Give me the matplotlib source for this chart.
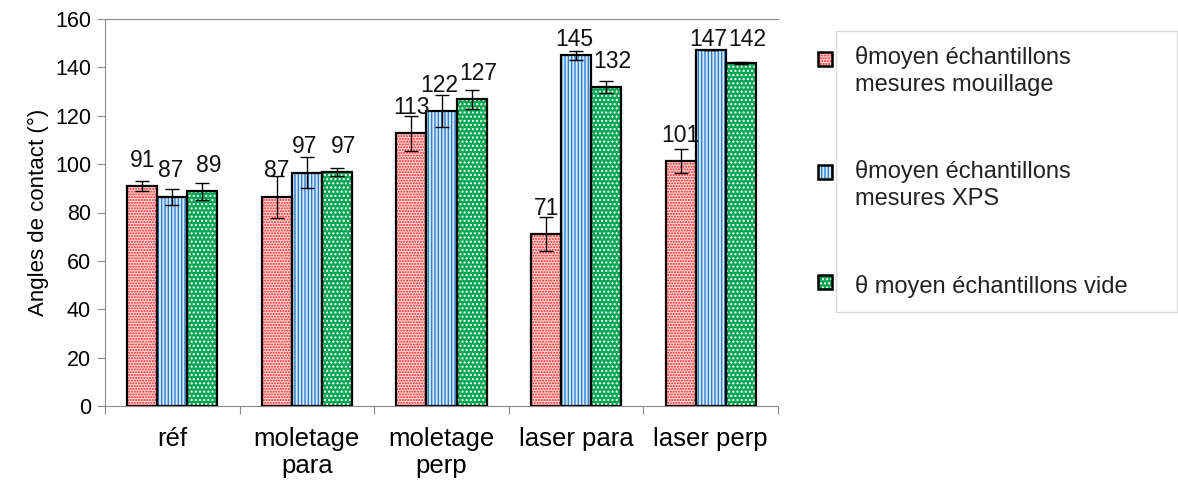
import numpy as np
import matplotlib.pyplot as plt
from matplotlib.patches import Rectangle

plt.rcParams['font.family'] = ['Liberation Sans', 'DejaVu Sans']

# données
categories = ['réf', 'moletage\npara', 'moletage\nperp', 'laser para', 'laser perp']
series = ['θmoyen échantillons\nmesures mouillage',
          'θmoyen échantillons\nmesures XPS',
          'θ moyen échantillons vide']
mouillage = [90.8, 86.5, 112.7, 71.0, 101.3]
xps = [86.5, 96.5, 121.9, 145.0, 147.0]
vide = [88.7, 96.6, 126.8, 131.8, 141.8]
err_mouillage = [2.1, 8.6, 7.1, 7.0, 5.0]
err_xps = [3.2, 6.4, 6.7, 1.9, 0.0]
err_vide = [3.5, 1.6, 3.9, 2.4, 0.5]
labels_mouillage = [91, 87, 113, 71, 101]
labels_xps = [87, 97, 122, 145, 147]
labels_vide = [89, 97, 127, 132, 142]

values = [mouillage, xps, vide]
errors = [err_mouillage, err_xps, err_vide]
labels = [labels_mouillage, labels_xps, labels_vide]

# styles: fond, couleur des motifs, motif
styles = [('#ffd6d6', '#ee2222', '......'),
          ('#d6e8f8', '#2a7fd0', '|||||'),
          ('#00a651', '#ffffff', '....')]
label_shift = [0, -1.5, 4.5]  # décalage horizontal des étiquettes (points)

plt.rcParams['hatch.linewidth'] = 1.0

fig = plt.figure(figsize=(11.78, 4.82), dpi=100)
ax = fig.add_axes([105 / 1178, 76 / 482, 673 / 1178, 387 / 482])

x = np.arange(len(categories))
w = 0.223
for i, (vals, errs, labs) in enumerate(zip(values, errors, labels)):
    face, hcol, hatch = styles[i]
    pos = x + (i - 1) * w
    ax.bar(pos, vals, w, color=face, edgecolor=hcol, linewidth=0, hatch=hatch, zorder=2)
    ax.bar(pos, vals, w, facecolor='none', edgecolor='black', linewidth=1.6, zorder=3)
    ax.errorbar(pos, vals, yerr=errs, fmt='none', ecolor='black', elinewidth=1,
                capsize=5, capthick=1, zorder=4)
    for p, v, lab in zip(pos, vals, labs):
        ax.annotate(str(lab), (p, min(v + 8, 149)), xytext=(label_shift[i], 0),
                    textcoords='offset points', ha='center', va='baseline',
                    fontsize=16.5, color='#111111', zorder=5)

ax.set_xlim(-0.5, len(categories) - 0.5)
ax.set_ylim(0, 160)
ax.set_yticks(np.arange(0, 161, 20))
ax.set_xticks(np.arange(-0.5, len(categories), 1.0))
ax.set_xticklabels([])
ax.set_xticks(x, minor=True)
ax.set_xticklabels(categories, minor=True, fontsize=18.5, linespacing=1.15)
ax.tick_params(axis='x', which='minor', length=0, pad=15)
ax.tick_params(axis='x', which='major', length=6, color='#888888')
ax.tick_params(axis='y', length=6, color='#888888', labelsize=15.5, pad=4)
ax.set_ylabel('Angles de contact (°)', fontsize=16, labelpad=4)
for s in ['left', 'bottom', 'top']:
    ax.spines[s].set_color('#888888')
ax.spines['right'].set_visible(False)

# légende dessinée à la main
fig.add_artist(Rectangle((836 / 1178, 170 / 482), 341 / 1178, 281 / 482,
                         transform=fig.transFigure, facecolor='none',
                         edgecolor='#d9d9d9', linewidth=1))
marker_y = [59, 172, 282]
text_y = [71, 185, 286]
for i, name in enumerate(series):
    face, hcol, hatch = styles[i]
    yy = 482 - marker_y[i]
    for kw in (dict(facecolor=face, edgecolor=hcol, linewidth=0, hatch=hatch),
               dict(facecolor='none', edgecolor='black', linewidth=1.8)):
        fig.add_artist(Rectangle((818 / 1178, (yy - 7) / 482), 14 / 1178, 14 / 482,
                                 transform=fig.transFigure, **kw))
    fig.text(855 / 1178, (482 - text_y[i]) / 482, name, ha='left', va='center',
             fontsize=17, color='#222222', linespacing=1.25)

fig.savefig('out.png', dpi=100)
